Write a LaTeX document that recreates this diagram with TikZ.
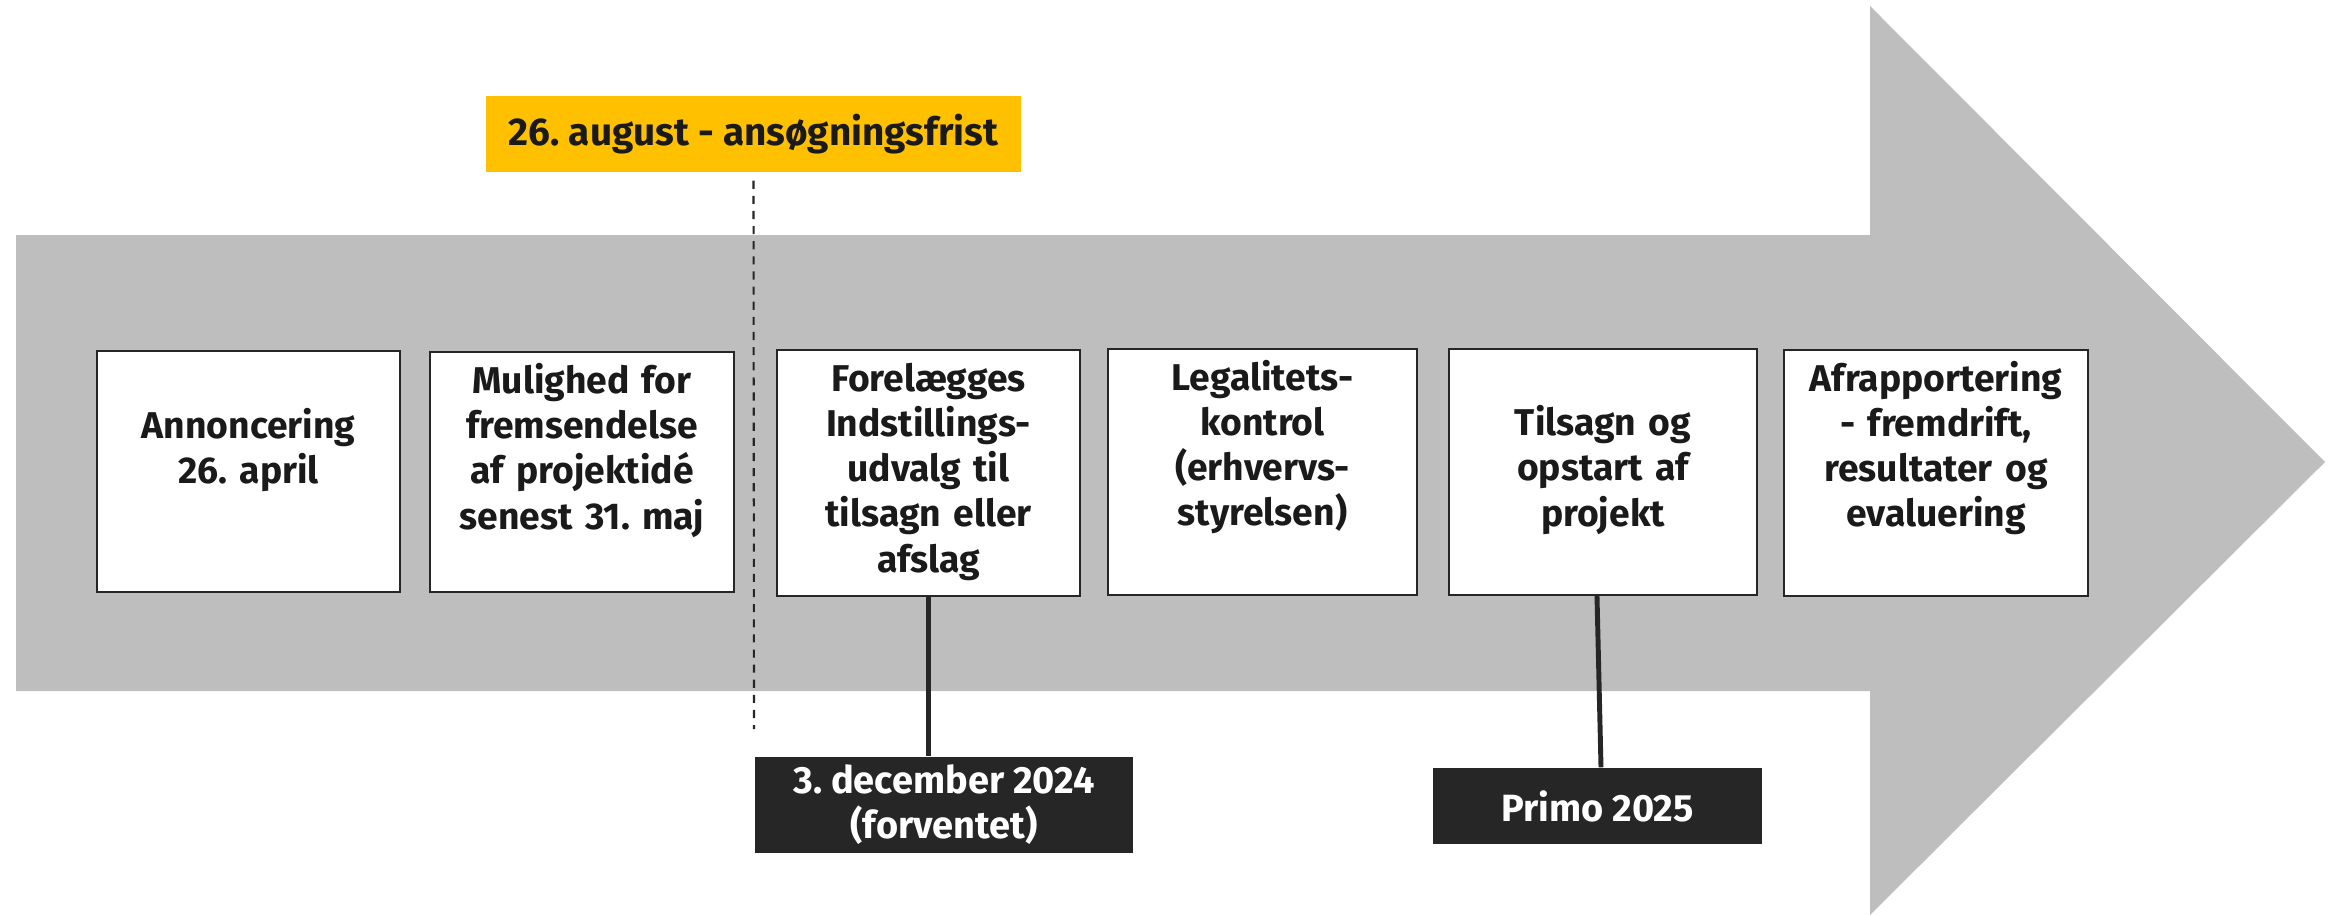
\documentclass[tikz,border=0pt]{standalone}
\usepackage{xcolor}
\usepackage{fontspec}
\setmainfont{Fira Sans}
\usepackage{tikz}
\usetikzlibrary{positioning}
\definecolor{pilgraa}{HTML}{BEBEBE}
\definecolor{fristgul}{HTML}{FFC000}
\definecolor{moerk}{HTML}{262626}
\definecolor{tekst}{HTML}{1A1A1A}
\frenchspacing

\begin{document}
\begin{tikzpicture}[
			x=0.01cm, y=-0.01cm,
			fase/.style={draw=moerk, line width=0.6pt, fill=white, inner sep=0pt, text=tekst,
				text width=3.03cm, align=center, text height=0.42cm, text depth=1.98cm,
				font=\bfseries\fontsize{10.6}{12.8}\selectfont},
			lav/.style={text height=0.87cm, text depth=1.53cm},
			dato/.style={fill=moerk, text=white, inner sep=0pt, align=center,
				font=\bfseries\fontsize{10.8}{12.8}\selectfont},
			forbind/.style={draw=moerk, line width=1.4pt}
			]

				\useasboundingbox (0,0) rectangle (2333,915);

				\fill[pilgraa] (16,235) -- (1870,235) -- (1870,6) -- (2325,462) -- (1870,915) -- (1870,691) -- (16,691) -- cycle;

				\node[fill=fristgul, text=tekst, minimum width=5.35cm, minimum height=0.76cm, inner sep=0pt,
					font=\bfseries\fontsize{11}{13}\selectfont] (frist) at (753.5,134) {26. august - ansøgningsfrist};
				\coordinate (fristslut) at (754,729);
				\draw[moerk, line width=0.6pt, dash pattern=on 2.3pt off 2pt, shorten <=0.08cm] (frist.south) -- (fristslut);

				\node[fase, lav] (annonce) at (248.5,471.5) {Annoncering\\26. april};
				\node[fase] (idé) at (582,472) {Mulighed for\\fremsendelse\\af projektidé\\senest 31. maj};
				\node[fase, text height=0.42cm, text depth=2.04cm] (udvalg) at (928.5,473) {Forelægges\\Indstillings-\\udvalg til\\tilsagn eller\\afslag};
				\node[fase, text width=3.09cm, text height=0.42cm, text depth=2.04cm] (kontrol) at (1262.5,472) {Legalitets-\\kontrol\\(erhvervs-\\styrelsen)};
				\node[fase, lav, text width=3.08cm, text depth=1.59cm] (tilsagn) at (1603,472) {Tilsagn og\\opstart af\\projekt};
				\node[fase, text height=0.42cm, text depth=2.04cm] (rapport) at (1936,473) {Afrapportering\\- fremdrift,\\resultater og\\evaluering};

				\node[dato, minimum width=3.78cm, minimum height=0.96cm] (december) at (944,805) {3. december 2024\\(forventet)};
				\node[dato, minimum width=3.29cm, minimum height=0.76cm] (primo) at (1597.5,806) {Primo 2025};

				\draw[forbind] (udvalg.south) -- (udvalg.south |- december.north);
				\draw[forbind] ([xshift=-0.06cm]tilsagn.south) -- ([xshift=0.035cm]primo.north);

			\end{tikzpicture}
\end{document}
